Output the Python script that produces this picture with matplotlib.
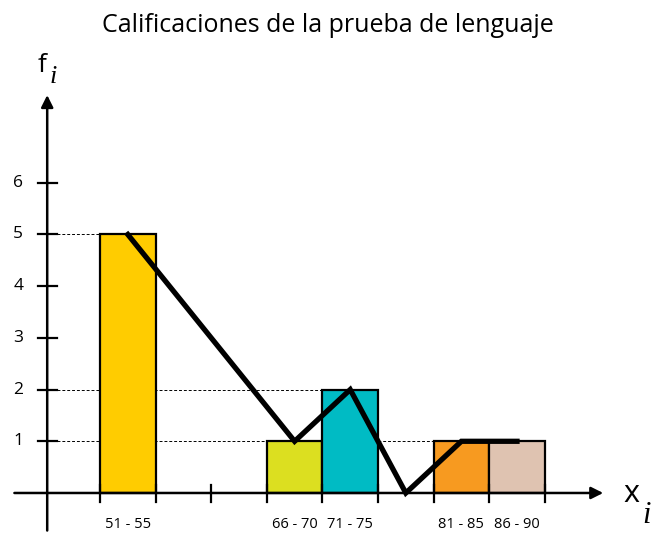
import matplotlib.pyplot as plt
from matplotlib.patches import Rectangle

plt.rcParams['font.family'] = ['Open Sans', 'DejaVu Sans']

# clases de calificaciones y frecuencias absolutas
clases = ["51 - 55", "56 - 60", "61 - 65", "66 - 70", "71 - 75", "76 - 80", "81 - 85", "86 - 90"]
frecuencias = [5, 0, 0, 1, 2, 0, 1, 1]
colores = ["#FFCC00", "#FFFFFF", "#FFFFFF", "#DCDF20", "#00BBC4", "#FFFFFF", "#F79A20", "#DFC3B1"]

# puntos del polígono de frecuencias (índice de clase, frecuencia)
poligono_x = [0, 3, 4, 5, 6, 7]
poligono_y = [5, 1, 2, 0, 1, 1]

yticks = [1, 2, 3, 4, 5, 6]

fig = plt.figure(figsize=(6.52, 5.33), dpi=100)
ax = fig.add_axes([0, 0, 1, 1])
ax.set_xlim(-1.799, 9.928)
ax.set_ylim(-0.774, 9.536)
ax.axis('off')

eje_x0 = -0.95  # posición del eje vertical

# líneas punteadas de referencia (detrás de las barras)
for nivel, hasta in [(5, 0), (2, 4), (1, 6)]:
    ax.plot([eje_x0 + 0.17, hasta], [nivel, nivel], ls=(0, (3, 2)), color='black', lw=0.7, zorder=1)

# barras del histograma
for i, (f, c) in enumerate(zip(frecuencias, colores)):
    if f > 0:
        ax.add_patch(Rectangle((i, 0), 1, f, facecolor=c, edgecolor='black', lw=1.6, zorder=2))
        ax.text(i + 0.5, -0.6, clases[i], ha='center', va='center', fontsize=10.5, zorder=5)

# ejes con flechas
ax.annotate('', xy=(9.1, 0), xytext=(-1.59, 0),
            arrowprops=dict(arrowstyle='-|>', color='black', lw=1.8, mutation_scale=18), zorder=3)
ax.annotate('', xy=(eje_x0, 7.75), xytext=(eje_x0, -0.78),
            arrowprops=dict(arrowstyle='-|>', color='black', lw=1.8, mutation_scale=18), zorder=3)

# marcas del eje x en los bordes de clase
for i in range(len(clases) + 1):
    ax.plot([i, i], [-0.18, 0.16], color='black', lw=1.6, zorder=3)

# marcas y etiquetas del eje y
for v in yticks:
    ax.plot([eje_x0 - 0.17, eje_x0 + 0.17], [v, v], color='black', lw=1.6, zorder=3)
    ax.text(eje_x0 - 0.52, v, str(v), ha='center', va='center', fontsize=12.5)

# polígono de frecuencias
ax.plot([x + 0.5 for x in poligono_x], poligono_y, color='black', lw=3.8,
        solid_joinstyle='miter', zorder=4)

# nombres de los ejes: f_i y x_i
ax.text(-1.05, 8.14, 'f', ha='center', va='baseline', fontsize=19)
ax.text(-0.84, 7.93, 'i', ha='center', va='baseline', fontsize=19,
        family='Liberation Serif', style='italic')
ax.text(9.55, -0.17, 'x', ha='center', va='baseline', fontsize=22)
ax.text(9.83, -0.58, 'i', ha='center', va='baseline', fontsize=22,
        family='Liberation Serif', style='italic')

ax.text(4.09, 9.05, "Calificaciones de la prueba de lenguaje", ha='center', va='center', fontsize=18)

fig.savefig("out.png", dpi=100)
